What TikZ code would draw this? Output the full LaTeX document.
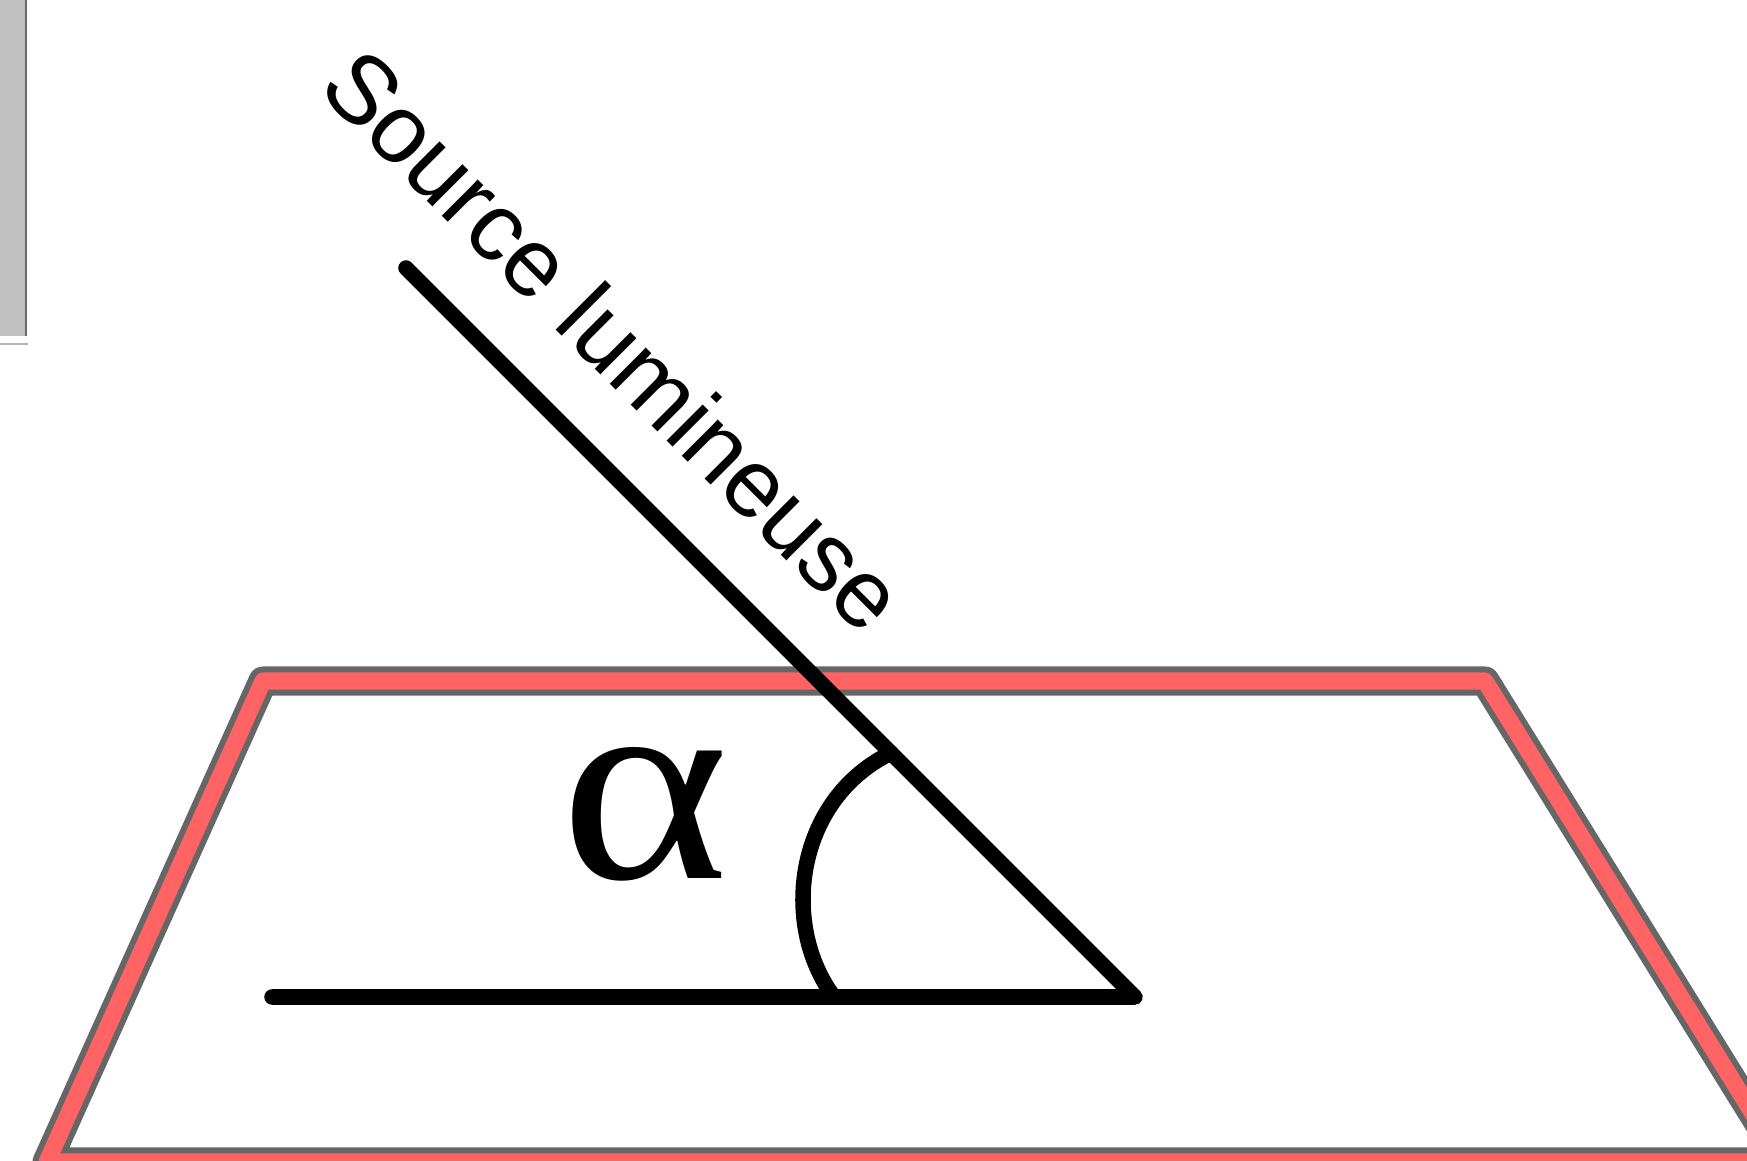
\documentclass[tikz,border=0pt]{standalone}
\usepackage{fontspec}
\setmainfont{Liberation Serif}
\newfontfamily\labelfont{Liberation Sans}
\usepackage{tikz}
\usetikzlibrary{calc}
\usepackage{xcolor}
\definecolor{PlaneRed}{HTML}{FF6363}
\definecolor{PlaneGrey}{HTML}{666666}
\definecolor{BarGrey}{HTML}{C0C0C0}
\definecolor{BarEdge}{HTML}{6A6A6A}
\tikzset{
  planeedge/.style={draw=PlaneGrey, double=PlaneRed, double distance=1.7mm,
    line width=0.6mm, line join=round},
  ray/.style={line width=1.55mm, line cap=round, line join=round, draw=black},
}
\begin{document}
\begin{tikzpicture}[x=0.01cm, y=-0.01cm,
  srclabel/.style={font=\labelfont\fontsize{27.5pt}{32pt}\selectfont, inner sep=0pt},
  anglabel/.style={font=\fontsize{79pt}{80pt}\selectfont, inner sep=0pt, xscale=1.16},
]
  \useasboundingbox (0,0) rectangle (1747,1161);
  \clip (0,0) rectangle (1747,1161);
  \fill[white] (0,0) rectangle (1747,1161);
  % bout de fenetre a gauche
  \fill[BarGrey] (0,0) rectangle (27,336);
  \draw[BarEdge, line width=0.25mm] (26,0) -- (26,336);
  \draw[BarEdge!50, line width=0.2mm] (0,344) -- (28,344);
  % le plan
  \coordinate (ptl) at (263,681);
  \coordinate (ptr) at (1485,681);
  \coordinate (pbr) at (1783,1162);
  \coordinate (pbl) at (47,1162);
  \draw[planeedge] (ptl) -- (ptr) -- (pbr) -- (pbl) -- cycle;
  % rayon et horizontale
  \coordinate (apex) at (1135,997);
  \coordinate (srcend) at (406,268);
  \coordinate (baseend) at (272,997);
  \coordinate (arcbase) at (834,997);
  \coordinate (arctop) at (891,753);
  \draw[ray] (baseend) -- (apex) -- (srcend);
  \draw[ray] (arcbase) .. controls (780,925) and (795,800) .. (arctop);
  % textes
  \node[anglabel] (alpha) at (645,814) {α};
  \node[srclabel, rotate=-45, anchor=base] (srctext) at (590,364) {Source lumineuse};
\end{tikzpicture}
\end{document}
